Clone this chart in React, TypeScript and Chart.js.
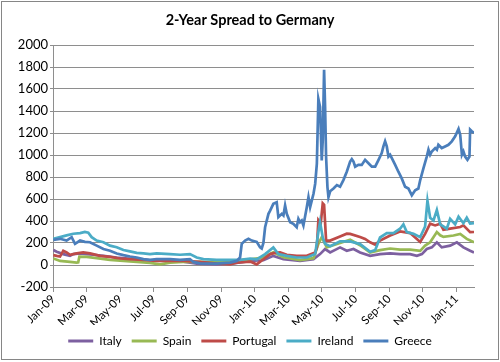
import React, { useEffect, useRef } from 'react';
import { Chart, registerables } from 'chart.js';

Chart.register(...registerables);

// x = months since 1 Jan 2009, y = spread in basis points
const monthLabels = ['Jan-09', 'Mar-09', 'May-09', 'Jul-09', 'Sep-09', 'Nov-09', 'Jan-10', 'Mar-10', 'May-10', 'Jul-10', 'Sep-10', 'Nov-10', 'Jan-11'];
const seriesNames = ['Italy', 'Spain', 'Portugal', 'Ireland', 'Greece'];

const italy: [number, number][] = [[0.02,136],[0.22,120],[0.61,99],[1.01,83],[1.21,99],[1.61,105],[2.0,99],[2.4,93],[3.0,83],[3.79,68],[4.78,53],[5.77,43],[6.77,37],[7.76,31],[8.55,12],[9.74,6],[10.93,19],[11.73,37],[12.52,43],[13.11,83],[13.71,52],[14.7,37],[15.5,52],[15.89,99],[16.19,145],[16.49,114],[17.08,160],[17.48,129],[17.88,145],[18.27,114],[18.87,83],[19.46,99],[20.06,105],[20.65,99],[21.25,99],[21.65,83],[21.95,99],[22.24,145],[22.54,160],[22.84,206],[23.13,160],[23.63,176],[24.03,206],[24.42,160],[24.82,129],[25.05,114]];

const spain: [number, number][] = [[0.02,60],[0.42,37],[1.01,28],[1.41,22],[1.5,25],[1.57,77],[2.0,74],[2.6,62],[3.39,46],[4.19,37],[4.98,28],[5.77,19],[6.37,5],[6.96,22],[7.76,28],[8.75,28],[9.74,25],[10.73,37],[11.53,49],[11.73,52],[12.52,68],[13.11,115],[13.71,70],[14.7,45],[15.5,62],[15.79,192],[15.99,253],[16.29,161],[16.49,170],[17.08,200],[17.68,230],[18.27,180],[18.87,114],[19.46,135],[20.06,150],[20.65,140],[21.25,140],[21.85,129],[22.14,176],[22.44,206],[22.84,299],[23.04,270],[23.23,255],[23.83,268],[24.23,283],[24.62,237],[25.05,206]];

const portugal: [number, number][] = [[0.02,90],[0.22,83],[0.42,77],[0.61,130],[0.81,114],[1.01,93],[1.41,105],[1.8,114],[2.2,105],[2.8,83],[3.39,74],[3.99,59],[4.58,53],[5.38,46],[6.17,37],[7.76,37],[8.75,28],[9.74,12],[10.54,6],[10.93,22],[11.73,31],[12.12,6],[12.52,52],[12.92,99],[13.21,110],[13.51,114],[13.91,92],[14.5,83],[15.1,83],[15.6,114],[15.7,160],[15.79,407],[15.93,377],[16.05,560],[16.13,547],[16.25,222],[16.49,222],[17.08,260],[17.48,285],[17.68,283],[18.27,255],[18.57,237],[18.87,206],[19.17,185],[19.46,222],[20.06,268],[20.65,305],[21.25,290],[21.65,237],[21.85,210],[22.14,283],[22.44,376],[22.74,360],[23.04,376],[23.23,320],[23.63,330],[24.23,345],[24.42,360],[24.82,299],[25.05,300]];

const ireland: [number, number][] = [[0.02,238],[0.42,253],[0.81,269],[1.21,284],[1.61,290],[1.9,300],[2.1,294],[2.3,253],[2.6,222],[3.0,207],[3.39,176],[3.79,161],[4.19,136],[4.58,124],[4.98,111],[5.38,105],[5.77,99],[6.17,105],[6.96,99],[7.56,93],[8.15,99],[8.55,68],[8.95,53],[9.74,46],[10.54,46],[11.13,46],[11.73,59],[12.12,52],[12.62,99],[13.11,160],[13.41,99],[13.91,83],[14.5,68],[15.1,68],[15.6,99],[15.79,300],[15.89,391],[16.05,250],[16.19,192],[16.49,170],[17.08,215],[17.68,215],[18.27,190],[18.87,120],[19.17,135],[19.46,250],[19.86,290],[20.26,290],[20.65,330],[20.85,370],[21.05,299],[21.45,283],[21.85,253],[22.14,350],[22.28,585],[22.44,430],[22.64,405],[22.84,499],[23.04,370],[23.43,330],[23.63,420],[23.93,370],[24.13,440],[24.42,380],[24.62,430],[24.82,376],[25.05,380]];

const greece: [number, number][] = [[0.02,229],[0.42,238],[0.81,222],[1.11,253],[1.31,192],[1.61,222],[1.9,210],[2.2,207],[2.6,176],[3.0,145],[3.39,130],[3.79,105],[4.19,90],[4.58,77],[4.98,68],[5.38,53],[5.77,46],[6.17,53],[6.37,53],[6.96,53],[7.56,46],[8.15,53],[8.35,28],[8.75,15],[9.74,12],[10.54,22],[10.93,37],[11.13,68],[11.23,192],[11.43,222],[11.63,238],[11.83,222],[12.12,210],[12.32,161],[12.42,150],[12.52,200],[12.62,343],[12.82,465],[12.92,495],[13.11,556],[13.31,571],[13.41,435],[13.61,465],[13.71,450],[13.81,541],[13.91,465],[14.11,389],[14.3,374],[14.5,343],[14.6,420],[14.7,389],[14.8,404],[14.9,359],[15.1,526],[15.2,617],[15.3,526],[15.4,587],[15.5,647],[15.6,739],[15.7,921],[15.79,1510],[15.89,1438],[15.99,951],[16.05,1134],[16.13,1775],[16.19,1438],[16.25,982],[16.33,708],[16.39,617],[16.49,670],[16.69,695],[16.89,726],[17.08,711],[17.28,772],[17.48,848],[17.68,940],[17.78,962],[17.88,940],[17.98,894],[18.17,910],[18.37,910],[18.57,956],[18.77,925],[18.97,894],[19.17,894],[19.37,956],[19.56,1017],[19.66,1078],[19.76,1124],[19.86,1078],[19.96,986],[20.06,1002],[20.16,971],[20.36,910],[20.55,848],[20.75,787],[20.95,711],[21.15,695],[21.35,634],[21.55,680],[21.74,695],[21.85,772],[22.04,879],[22.24,986],[22.34,1048],[22.44,1002],[22.54,1032],[22.74,1063],[22.84,1048],[22.93,1093],[23.13,1063],[23.33,1078],[23.53,1093],[23.73,1124],[23.93,1170],[24.13,1237],[24.23,1185],[24.33,1002],[24.42,1032],[24.52,986],[24.66,956],[24.78,986],[24.82,1231],[24.92,1216],[25.05,1200]];

const seriesData = [italy, spain, portugal, ireland, greece];
const seriesColors = ['#7D60A0', '#98B954', '#BE4B48', '#4BACC6', '#4A7EBB'];

const FONT = 'Lato, "Open Sans", "Liberation Sans", sans-serif';
const GRID = '#8e8e8e';

export default function App() {
  const ref = useRef<HTMLCanvasElement>(null);

  useEffect(() => {
    if (!ref.current) return;
    const chart = new Chart(ref.current, {
      type: 'line',
      data: {
        datasets: seriesNames.map((name, i) => ({
          label: name,
          data: seriesData[i].map(([x, y]) => ({ x, y })),
          borderColor: seriesColors[i],
          backgroundColor: seriesColors[i],
          borderWidth: 2.7,
          pointRadius: 0,
          tension: 0,
          order: seriesNames.length - 1 - i,
        })),
      },
      options: {
        animation: false,
        responsive: false,
        maintainAspectRatio: false,
        layout: { padding: { left: 8, right: 8, top: 8, bottom: 5 } },
        plugins: {
          title: {
            display: true,
            text: '2-Year Spread to Germany',
            color: '#000',
            font: { family: FONT, size: 14.5, weight: 'bold' },
            padding: { top: 4, bottom: 15.6 },
          },
          legend: {
            position: 'bottom',
            labels: {
              boxWidth: 25,
              boxHeight: 3,
              color: '#000',
              padding: 10,
              font: { family: FONT, size: 12 },
              sort: (a: any, b: any) => a.datasetIndex - b.datasetIndex,
              generateLabels: (c: any) =>
                (Chart.defaults.plugins.legend.labels.generateLabels as any)(c).map((l: any) => ({ ...l, lineWidth: 0 })),
            },
          },
          tooltip: { enabled: false },
        },
        scales: {
          x: {
            type: 'linear',
            min: 0,
            max: 25.05,
            afterBuildTicks: (s: any) => {
              s.ticks = monthLabels.map((_, i) => ({ value: i * 2 }));
            },
            afterFit: (s: any) => {
              s.height = 38;
            },
            ticks: {
              autoSkip: false,
              maxRotation: 45,
              minRotation: 45,
              padding: 0,
              color: '#000',
              font: { family: FONT, size: 11.5 },
              callback: (v: any) => monthLabels[Math.round(Number(v) / 2)] ?? '',
            },
            grid: { drawOnChartArea: false, tickLength: 5, color: GRID },
            border: { color: GRID },
          },
          y: {
            min: -200,
            max: 2000,
            afterFit: (s: any) => {
              s.width = 45;
            },
            ticks: {
              stepSize: 200,
              padding: 2,
              color: '#000',
              font: { family: FONT, size: 13 },
              callback: (v: any) => String(v),
            },
            grid: { color: GRID, tickLength: 3 },
            border: { color: GRID },
          },
          yRight: {
            position: 'right',
            display: true,
            min: -200,
            max: 2000,
            afterFit: (s: any) => {
              s.width = 18;
            },
            ticks: { display: false },
            grid: { display: false },
            border: { display: false },
          },
        },
      },
    });
    return () => chart.destroy();
  }, []);

  return (
    <div style={{ position: 'fixed', left: 0, top: 0, width: 500, height: 362, background: '#fff' }}>
      <canvas ref={ref} width={500} height={362} style={{ display: 'block' }} />
      <div
        style={{
          position: 'absolute',
          left: 1,
          top: 1,
          width: 498,
          height: 359,
          border: '1px solid #868686',
          boxSizing: 'border-box',
          pointerEvents: 'none',
        }}
      />
    </div>
  );
}
